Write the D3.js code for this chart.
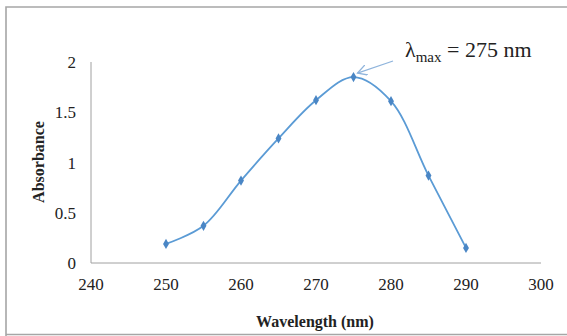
<!DOCTYPE html>
<html>
<head>
<meta charset="utf-8">
<script src="https://cdn.jsdelivr.net/npm/d3@7"></script>
<style>
  body { margin: 0; background: #fff; }
</style>
</head>
<body>
<div id="chart"></div>
<script>
// data
const wavelength = [250, 255, 260, 265, 270, 275, 280, 285, 290];
const absorbance = [0.19, 0.37, 0.82, 1.24, 1.62, 1.85, 1.61, 0.87, 0.15];
const xTicks = [240, 250, 260, 270, 280, 290, 300];
const yTicks = [0, 0.5, 1, 1.5, 2];

const width = 567, height = 336;
const blue = "#5b9bd5";
const serif = "'Liberation Serif', 'Times New Roman', Times, serif";

const svg = d3.select("#chart").append("svg")
  .attr("width", width)
  .attr("height", height)
  .attr("font-family", serif);

// chart area border (no right edge visible in the picture)
svg.append("path")
  .attr("d", "M6,336 L6,7 L567,7 M6,334.5 L567,334.5")
  .attr("fill", "none")
  .attr("stroke", "#a6a6a6")
  .attr("stroke-width", 1.6);

const x = d3.scaleLinear().domain([240, 300]).range([91, 541]);
const y = d3.scaleLinear().domain([0, 2]).range([263, 62]);

// axes lines
svg.append("line")
  .attr("x1", x(240)).attr("x2", x(300))
  .attr("y1", y(0)).attr("y2", y(0))
  .attr("stroke", "#a0a0a0");
svg.append("line")
  .attr("x1", x(240)).attr("x2", x(240))
  .attr("y1", y(0)).attr("y2", y(2))
  .attr("stroke", "#a0a0a0");

// tick labels
svg.selectAll(".xt").data(xTicks).enter().append("text")
  .attr("class", "xt")
  .attr("x", d => x(d))
  .attr("y", 290)
  .attr("text-anchor", "middle")
  .attr("font-family", serif)
  .attr("font-size", 17)
  .attr("fill", "#222")
  .text(d => d);

svg.selectAll(".yt").data(yTicks).enter().append("text")
  .attr("class", "yt")
  .attr("x", 76)
  .attr("y", d => y(d) + 6)
  .attr("text-anchor", "end")
  .attr("font-family", serif)
  .attr("font-size", 17)
  .attr("fill", "#222")
  .text(d => d);

// axis titles
svg.append("text")
  .attr("x", 315)
  .attr("y", 327)
  .attr("text-anchor", "middle")
  .attr("font-family", serif)
  .attr("font-size", 16)
  .attr("font-weight", "bold")
  .attr("fill", "#222")
  .text("Wavelength (nm)");

svg.append("text")
  .attr("transform", "translate(44,162) rotate(-90)")
  .attr("text-anchor", "middle")
  .attr("font-family", serif)
  .attr("font-size", 16)
  .attr("font-weight", "bold")
  .attr("fill", "#222")
  .text("Absorbance");

// smoothed line
const pts = wavelength.map((w, i) => [w, absorbance[i]]);
const line = d3.line()
  .x(d => x(d[0]))
  .y(d => y(d[1]))
  .curve(d3.curveCatmullRom.alpha(0.5));

svg.append("path")
  .datum(pts)
  .attr("d", line)
  .attr("fill", "none")
  .attr("stroke", blue)
  .attr("stroke-width", 1.8);

// diamond markers
svg.selectAll(".pt").data(pts).enter().append("path")
  .attr("class", "pt")
  .attr("transform", d => "translate(" + x(d[0]) + "," + y(d[1]) + ")")
  .attr("d", d3.symbol().type(d3.symbolDiamond).size(30))
  .attr("fill", "#4a86c5");

// annotation
const lab = svg.append("text")
  .attr("x", 405)
  .attr("y", 57)
  .attr("font-family", serif)
  .attr("font-size", 22)
  .attr("fill", "#222");
lab.append("tspan").text("λ");
lab.append("tspan").attr("dy", 5).attr("font-size", 15).text("max");
lab.append("tspan").attr("dy", -5).text(" = 275 nm");

svg.append("defs").append("marker")
  .attr("id", "arr")
  .attr("viewBox", "0 0 10 10")
  .attr("refX", 9).attr("refY", 5)
  .attr("markerWidth", 9).attr("markerHeight", 9)
  .attr("orient", "auto")
  .append("path")
  .attr("d", "M0,0 L9,5 L0,10")
  .attr("fill", "none")
  .attr("stroke", "#8fb4dc")
  .attr("stroke-width", 1.2);

svg.append("line")
  .attr("x1", 393).attr("y1", 61)
  .attr("x2", x(275) + 4).attr("y2", y(1.85) - 4)
  .attr("stroke", "#8fb4dc")
  .attr("stroke-width", 1.2)
  .attr("marker-end", "url(#arr)");
</script>
</body>
</html>
